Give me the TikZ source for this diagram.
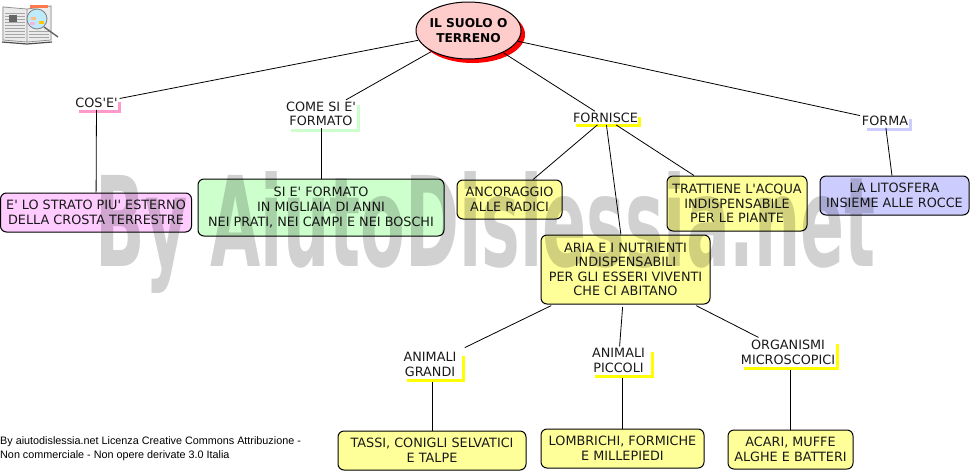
\documentclass[tikz,border=0pt]{standalone}
\usepackage{fontspec}
\usepackage{graphicx}
\newfontfamily\diagfont{DejaVu Sans}
\newfontfamily\footfont{Liberation Sans}
\usetikzlibrary{positioning,shapes.geometric,shadows}
\definecolor{rootpink}{HTML}{FFCCCC}
\definecolor{boxpink}{HTML}{FFCCFF}
\definecolor{boxgreen}{HTML}{CCFFCC}
\definecolor{boxyellow}{HTML}{FFFF99}
\definecolor{boxblue}{HTML}{CCCCFF}
\definecolor{barpink}{HTML}{FF99CC}
\definecolor{bargreen}{HTML}{CCFFCC}
\definecolor{baryellow}{HTML}{FFFF00}
\definecolor{barblue}{HTML}{CCCCFF}
\begin{document}
\begin{tikzpicture}[on grid,
    every node/.style={font=\fontsize{12.8}{14.6}\selectfont\diagfont, align=center, text=black!90},
    rootnode/.style={ellipse, draw=black, line width=1pt, fill=rootpink, inner xsep=-2pt, inner ysep=0pt, outer sep=1pt, minimum width=105pt, minimum height=57pt, general shadow={fill=red, shadow xshift=4pt, shadow yshift=-4pt}, text=black, font=\fontsize{12.2}{14.6}\selectfont\diagfont\bfseries},
    linknode/.style={rectangle, inner sep=0.5pt, outer sep=1.5pt},
    box/.style={rectangle, rounded corners=6pt, draw=black, line width=1pt, inner sep=0pt, outer sep=0.5pt},
    conn/.style={draw=black, line width=0.8pt},
    bar/.style={line width=3pt},
    watermark/.style={text=black, text opacity=0.18, font=\fontsize{125}{125}\selectfont\diagfont\bfseries},
    licence/.style={text=black, font=\fontsize{10.8}{14}\selectfont\footfont, align=left}]
    \useasboundingbox (0,0) rectangle (971pt,-472pt);

    % book with the lens
    \fill[black!8] (2pt,-6pt) -- (27pt,-9pt) -- (52pt,-5pt) -- (52pt,-41pt) -- (27pt,-43pt) -- (2pt,-41pt) -- cycle;
    \draw[black!45, line width=0.7pt] (3pt,-7pt) -- (27pt,-9pt) -- (51pt,-6pt) -- (51pt,-40pt) -- (27pt,-42pt) -- (3pt,-40pt) -- cycle (27pt,-9pt) -- (27pt,-42pt);
    \foreach \y in {13,16,19,22,25,28,31,34,37}
        \draw[black!35, line width=0.5pt] (5pt,-\y pt) -- (25pt,-\y pt);
    \foreach \y in {31,34,37}
        \draw[black!35, line width=0.5pt] (29pt,-\y pt) -- (49pt,-\y pt);
    \fill[black!60] (9pt,-15pt) rectangle (17pt,-22pt);
    \fill[red!50!orange!70] (30pt,-5pt) rectangle (48pt,-8pt);
    \draw[black!70, line width=1.2pt] (2pt,-42pt) -- (27pt,-44pt) -- (52pt,-42pt);
    \draw[black!60, line width=1.4pt] (44pt,-27pt) -- (58pt,-37pt);
    \draw[black!50, fill=cyan!25, line width=0.8pt] (37pt,-19pt) circle (10pt);
    \fill[orange!50] (31pt,-17pt) rectangle (36pt,-20pt);
    \fill[magenta!30] (30pt,-22pt) rectangle (35pt,-25pt);
    \fill[yellow!60!orange] (39pt,-21pt) rectangle (44pt,-24pt);

    \node[rootnode] (root) at (468.5pt,-30.5pt) {IL SUOLO O\\TERRENO};

    \node[linknode, below left=72.5pt and 372pt of root] (cose) {COS'E'};
    \node[linknode, below left=83.5pt and 147.5pt of root] (come) {COME SI E'\\FORMATO};
    \node[linknode, below right=87.5pt and 137pt of root] (fornisce) {FORNISCE};
    \node[linknode, below right=90.5pt and 416.5pt of root] (forma) {FORMA};

    \node[box, fill=boxpink, minimum width=191pt, minimum height=39pt, below left=109.5pt and 0.5pt of cose] (strato) {E' LO STRATO PIU' ESTERNO\\DELLA CROSTA TERRESTRE};
    \node[box, fill=boxgreen, minimum width=246pt, minimum height=57pt, below=93.5pt of come] (formato) {SI E' FORMATO\\IN MIGLIAIA DI ANNI\\NEI PRATI, NEI CAMPI E NEI BOSCHI};
    \node[box, fill=boxyellow, minimum width=105pt, minimum height=39pt, below left=81.5pt and 96pt of fornisce] (radici) {ANCORAGGIO\\ALLE RADICI};
    \node[box, fill=boxyellow, minimum width=140pt, minimum height=55pt, below right=85.5pt and 131.5pt of fornisce] (acqua) {TRATTIENE L'ACQUA\\INDISPENSABILE\\PER LE PIANTE};
    \node[box, fill=boxblue, minimum width=149pt, minimum height=39pt, below right=74.5pt and 9.5pt of forma] (litosfera) {LA LITOSFERA\\INSIEME ALLE ROCCE};
    \node[box, fill=boxyellow, minimum width=169pt, minimum height=69pt, below right=151.5pt and 20pt of fornisce] (aria) {ARIA E I NUTRIENTI\\INDISPENSABILI\\PER GLI ESSERI VIVENTI\\CHE CI ABITANO};

    \node[linknode, below left=95pt and 195.5pt of aria] (grandi) {ANIMALI\\GRANDI};
    \node[linknode, below left=91pt and 7pt of aria] (piccoli) {ANIMALI\\PICCOLI};
    \node[linknode, below right=83pt and 162.5pt of aria] (organismi) {ORGANISMI\\MICROSCOPICI};

    \node[box, fill=boxyellow, minimum width=188pt, minimum height=39pt, below right=86pt and 2pt of grandi] (tassi) {TASSI, CONIGLI SELVATICI\\E TALPE};
    \node[box, fill=boxyellow, minimum width=163pt, minimum height=39pt, below right=88pt and 4pt of piccoli] (lombrichi) {LOMBRICHI, FORMICHE\\E MILLEPIEDI};
    \node[box, fill=boxyellow, minimum width=125pt, minimum height=39pt, below right=97pt and 2.5pt of organismi] (acari) {ACARI, MUFFE\\ALGHE E BATTERI};

    \draw[bar, barpink] ([shift={(-17.5pt,-8pt)}]cose.center) -- ([shift={(23pt,-8pt)}]cose.center) -- ([shift={(23pt,1pt)}]cose.center);
    \draw[bar, bargreen] ([shift={(-30pt,-16pt)}]come.center) -- ([shift={(37.5pt,-16pt)}]come.center) -- ([shift={(37.5pt,9pt)}]come.center);
    \draw[bar, baryellow] ([shift={(-29.5pt,-7.5pt)}]fornisce.center) -- ([shift={(34pt,-7.5pt)}]fornisce.center) -- ([shift={(34pt,1pt)}]fornisce.center);
    \draw[bar, barblue] ([shift={(-18pt,-8pt)}]forma.center) -- ([shift={(25.5pt,-8pt)}]forma.center) -- ([shift={(25.5pt,2pt)}]forma.center);
    \draw[bar, baryellow] ([shift={(-23pt,-15.5pt)}]grandi.center) -- ([shift={(33.5pt,-15.5pt)}]grandi.center) -- ([shift={(33.5pt,8.5pt)}]grandi.center);
    \draw[bar, baryellow] ([shift={(-23.5pt,-15.5pt)}]piccoli.center) -- ([shift={(33.5pt,-15.5pt)}]piccoli.center) -- ([shift={(33.5pt,8.5pt)}]piccoli.center);
    \draw[bar, baryellow] ([shift={(-44pt,-15.5pt)}]organismi.center) -- ([shift={(49.5pt,-15.5pt)}]organismi.center) -- ([shift={(49.5pt,8.5pt)}]organismi.center);

    \draw[conn] (root) -- (cose);
    \draw[conn] (root) -- (come);
    \draw[conn] (root) -- (fornisce);
    \draw[conn] (root) -- (forma);

    \draw[conn] (cose) -- (strato);
    \draw[conn] (come) -- (formato);
    \draw[conn] (fornisce) -- (radici);
    \draw[conn] (fornisce) -- (aria);
    \draw[conn] (fornisce) -- (acqua);
    \draw[conn] (forma) -- (litosfera);

    \draw[conn, shorten <=2.5pt, shorten >=7pt] (aria) -- (grandi);
    \draw[conn, shorten <=2.5pt] (aria) -- (piccoli);
    \draw[conn, shorten <=2.5pt, shorten >=2pt] (aria) -- (organismi);
    \draw[conn] ([yshift=-3pt]grandi.south -| tassi) -- (tassi);
    \draw[conn] ([yshift=-3pt]piccoli.south -| lombrichi) -- (lombrichi);
    \draw[conn] ([yshift=-3pt]organismi.south -| acari) -- (acari);

    \node[licence, anchor=west, inner sep=0pt] (licenza) at (0,-449pt) {By aiutodislessia.net Licenza Creative Commons Attribuzione -\\Non commerciale - Non opere derivate 3.0 Italia};
    \node[watermark, below right=202pt and 17.5pt of root] (scritta) {\scalebox{.52}[1]{By AiutoDislessia.net}};
\end{tikzpicture}
\end{document}
